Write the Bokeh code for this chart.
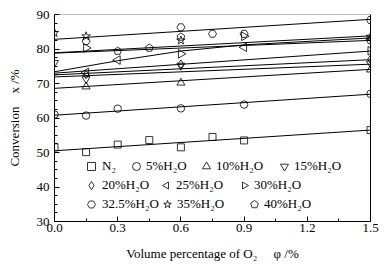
import math
from bokeh.plotting import figure
from bokeh.models import (Range1d, SingleIntervalTicker, LinearAxis, Legend,
                          LegendItem, NumeralTickFormatter, FixedTicker)
from bokeh.embed import file_html
from bokeh.resources import INLINE

# ---------------- data ----------------
labels = ["N₂", "5%H₂O", "10%H₂O", "15%H₂O", "20%H₂O",
          "25%H₂O", "30%H₂O", "32.5%H₂O", "35%H₂O", "40%H₂O"]

x_n2 = [0.0, 0.15, 0.30, 0.45, 0.60, 0.75, 0.90, 1.50]
y_n2 = [51.5, 50.1, 52.3, 53.6, 51.5, 54.5, 53.5, 56.5]
x_5 = [0.0, 0.15, 0.30, 0.60, 0.90, 1.50]
y_5 = [61.0, 60.7, 62.7, 62.8, 63.9, 67.0]
x_10 = [0.15, 0.60, 1.50]
y_10 = [69.1, 70.2, 74.0]
x_15 = [0.0, 0.15, 0.60, 1.50]
y_15 = [76.0, 71.3, 75.2, 75.8]
x_20 = [0.15, 0.60, 1.50]
y_20 = [72.6, 75.6, 77.0]
x_25 = [0.15, 0.30, 0.90, 1.50]
y_25 = [73.2, 76.8, 80.5, 83.0]
x_30 = [0.15, 0.60, 0.90, 1.50]
y_30 = [80.3, 78.6, 83.7, 79.5]
x_325 = [0.15, 0.60, 0.75, 0.90, 1.50]
y_325 = [82.3, 86.3, 84.4, 84.4, 88.4]
x_35 = [0.0, 0.15, 0.60, 1.50]
y_35 = [84.7, 83.7, 82.5, 83.6]
x_40 = [0.30, 0.45, 0.60, 1.50]
y_40 = [79.4, 80.3, 83.5, 82.5]

# fitted lines (values read at the line ends / knots)
fx_n2, fy_n2 = [0.0, 1.5], [50.5, 56.5]
fx_5, fy_5 = [0.0, 1.5], [60.8, 66.9]
fx_10, fy_10 = [0.0, 1.5], [68.6, 74.1]
fx_15, fy_15 = [0.0, 1.5], [71.9, 75.6]
fx_20, fy_20 = [0.0, 1.5], [72.5, 76.9]
fx_25, fy_25 = [0.0, 0.3, 0.6, 0.9, 1.5], [73.4, 76.6, 79.4, 81.2, 83.2]
fx_30, fy_30 = [0.0, 1.5], [73.0, 79.4]
fx_325, fy_325 = [0.0, 1.5], [82.8, 88.6]
fx_35, fy_35 = [0.0, 1.5], [78.9, 83.8]
fx_40, fy_40 = [0.0, 1.5], [78.8, 82.5]

xs_pts = [x_n2, x_5, x_10, x_15, x_20, x_25, x_30, x_325, x_35, x_40]
ys_pts = [y_n2, y_5, y_10, y_15, y_20, y_25, y_30, y_325, y_35, y_40]
xs_fit = [fx_n2, fx_5, fx_10, fx_15, fx_20, fx_25, fx_30, fx_325, fx_35, fx_40]
ys_fit = [fy_n2, fy_5, fy_10, fy_15, fy_20, fy_25, fy_30, fy_325, fy_35, fy_40]

# ---------------- styles / layout ----------------
markers = ["square", "circle", "triangle", "inverted_triangle", "diamond",
           "ngon3", "ngon3", "hex", "star", "ngon5"]
angles = [0, 0, 0, 0, 0, math.pi / 2, -math.pi / 2, 0, 0, 0]
sizes = [7, 7.5, 8, 8, 8.5, 8, 8, 8, 9, 8]

# legend layout: marker centre x (page px), row centre y (page px), text gap
leg_mx = [92, 137, 207, 285, 92, 167, 245, 92, 168, 255]
leg_cy = [167, 167, 167, 167, 186, 186, 186, 205, 205, 205]
leg_gap = [11, 7, 7, 6, 11, 10, 9, 11, 8, 9]
FRAME_L, FRAME_B = 55, 222

FONT = "Liberation Serif"

p = figure(frame_width=316, frame_height=207,
           x_range=Range1d(0, 1.5), y_range=Range1d(30, 90),
           output_backend="svg", toolbar_location=None,
           min_border_left=54, min_border_right=12,
           min_border_top=14, min_border_bottom=30)
p.xgrid.visible = False
p.ygrid.visible = False
p.outline_line_color = "#bdbdbd"
p.background_fill_color = "white"
p.border_fill_color = "white"

p.xaxis.ticker = SingleIntervalTicker(interval=0.3, num_minor_ticks=2)
p.xaxis.formatter = NumeralTickFormatter(format="0.0")
p.yaxis.ticker = SingleIntervalTicker(interval=10, num_minor_ticks=4)
for ax in (p.xaxis[0], p.yaxis[0]):
    ax.axis_line_color = "black"
    ax.major_tick_line_color = "black"
    ax.minor_tick_line_color = "black"
    ax.major_tick_in = 5
    ax.major_tick_out = 0
    ax.minor_tick_in = 3
    ax.minor_tick_out = 0
    ax.major_label_text_font = FONT
    ax.major_label_text_font_size = "13px"
    ax.major_label_text_color = "black"
    ax.axis_label_text_font = FONT
    ax.axis_label_text_font_size = "13px"
    ax.axis_label_text_font_style = "normal"
    ax.axis_label_text_color = "black"
p.xaxis.major_label_standoff = 2
p.yaxis.major_label_standoff = 5
p.xaxis.axis_label = "Volume percentage of O₂\u2003 φ /%"
p.yaxis.axis_label = "Conversion\u2003x /%"
p.xaxis.axis_label_standoff = 11
p.yaxis.axis_label_standoff = 12

ra = LinearAxis(ticker=FixedTicker(ticks=[]), major_tick_in=0,
                major_tick_out=0, minor_tick_in=0, minor_tick_out=0,
                axis_line_color="black", major_label_standoff=0)
p.add_layout(ra, "right")

for fx, fy in zip(xs_fit, ys_fit):
    p.line(fx, fy, line_color="black", line_width=1)

renderers = []
for xs, ys, m, a, s in zip(xs_pts, ys_pts, markers, angles, sizes):
    if m.startswith("ngon"):
        n = int(m[4:])
        rad = s / 2 + (1 if n == 3 else 0)
        try:
            r = p.ngon(x=xs, y=ys, radius=rad, radius_units="screen", n=n,
                       angle=a, fill_color=None,
                       line_color="black", line_width=0.8)
        except Exception:
            r = p.scatter(xs, ys, marker="triangle" if n == 3 else "hex",
                          size=s, angle=a, fill_color=None,
                          line_color="black", line_width=0.8)
    else:
        r = p.scatter(xs, ys, marker=m, size=s, angle=a,
                      fill_color=None, line_color="black", line_width=0.8)
    renderers.append(r)

for lab, r, mx, cy, g in zip(labels, renderers, leg_mx, leg_cy, leg_gap):
    leg = Legend(items=[LegendItem(label=lab, renderers=[r])],
                 location=(mx - 10 - FRAME_L, FRAME_B - cy - 10),
                 glyph_width=20, glyph_height=20, label_height=20,
                 label_width=5, label_standoff=g - 10, padding=0, margin=0,
                 spacing=0, border_line_color=None,
                 background_fill_alpha=0, label_text_font=FONT,
                 label_text_font_size="13px", label_text_color="black")
    p.add_layout(leg)

open("out.html", "w").write(file_html(p, INLINE))
